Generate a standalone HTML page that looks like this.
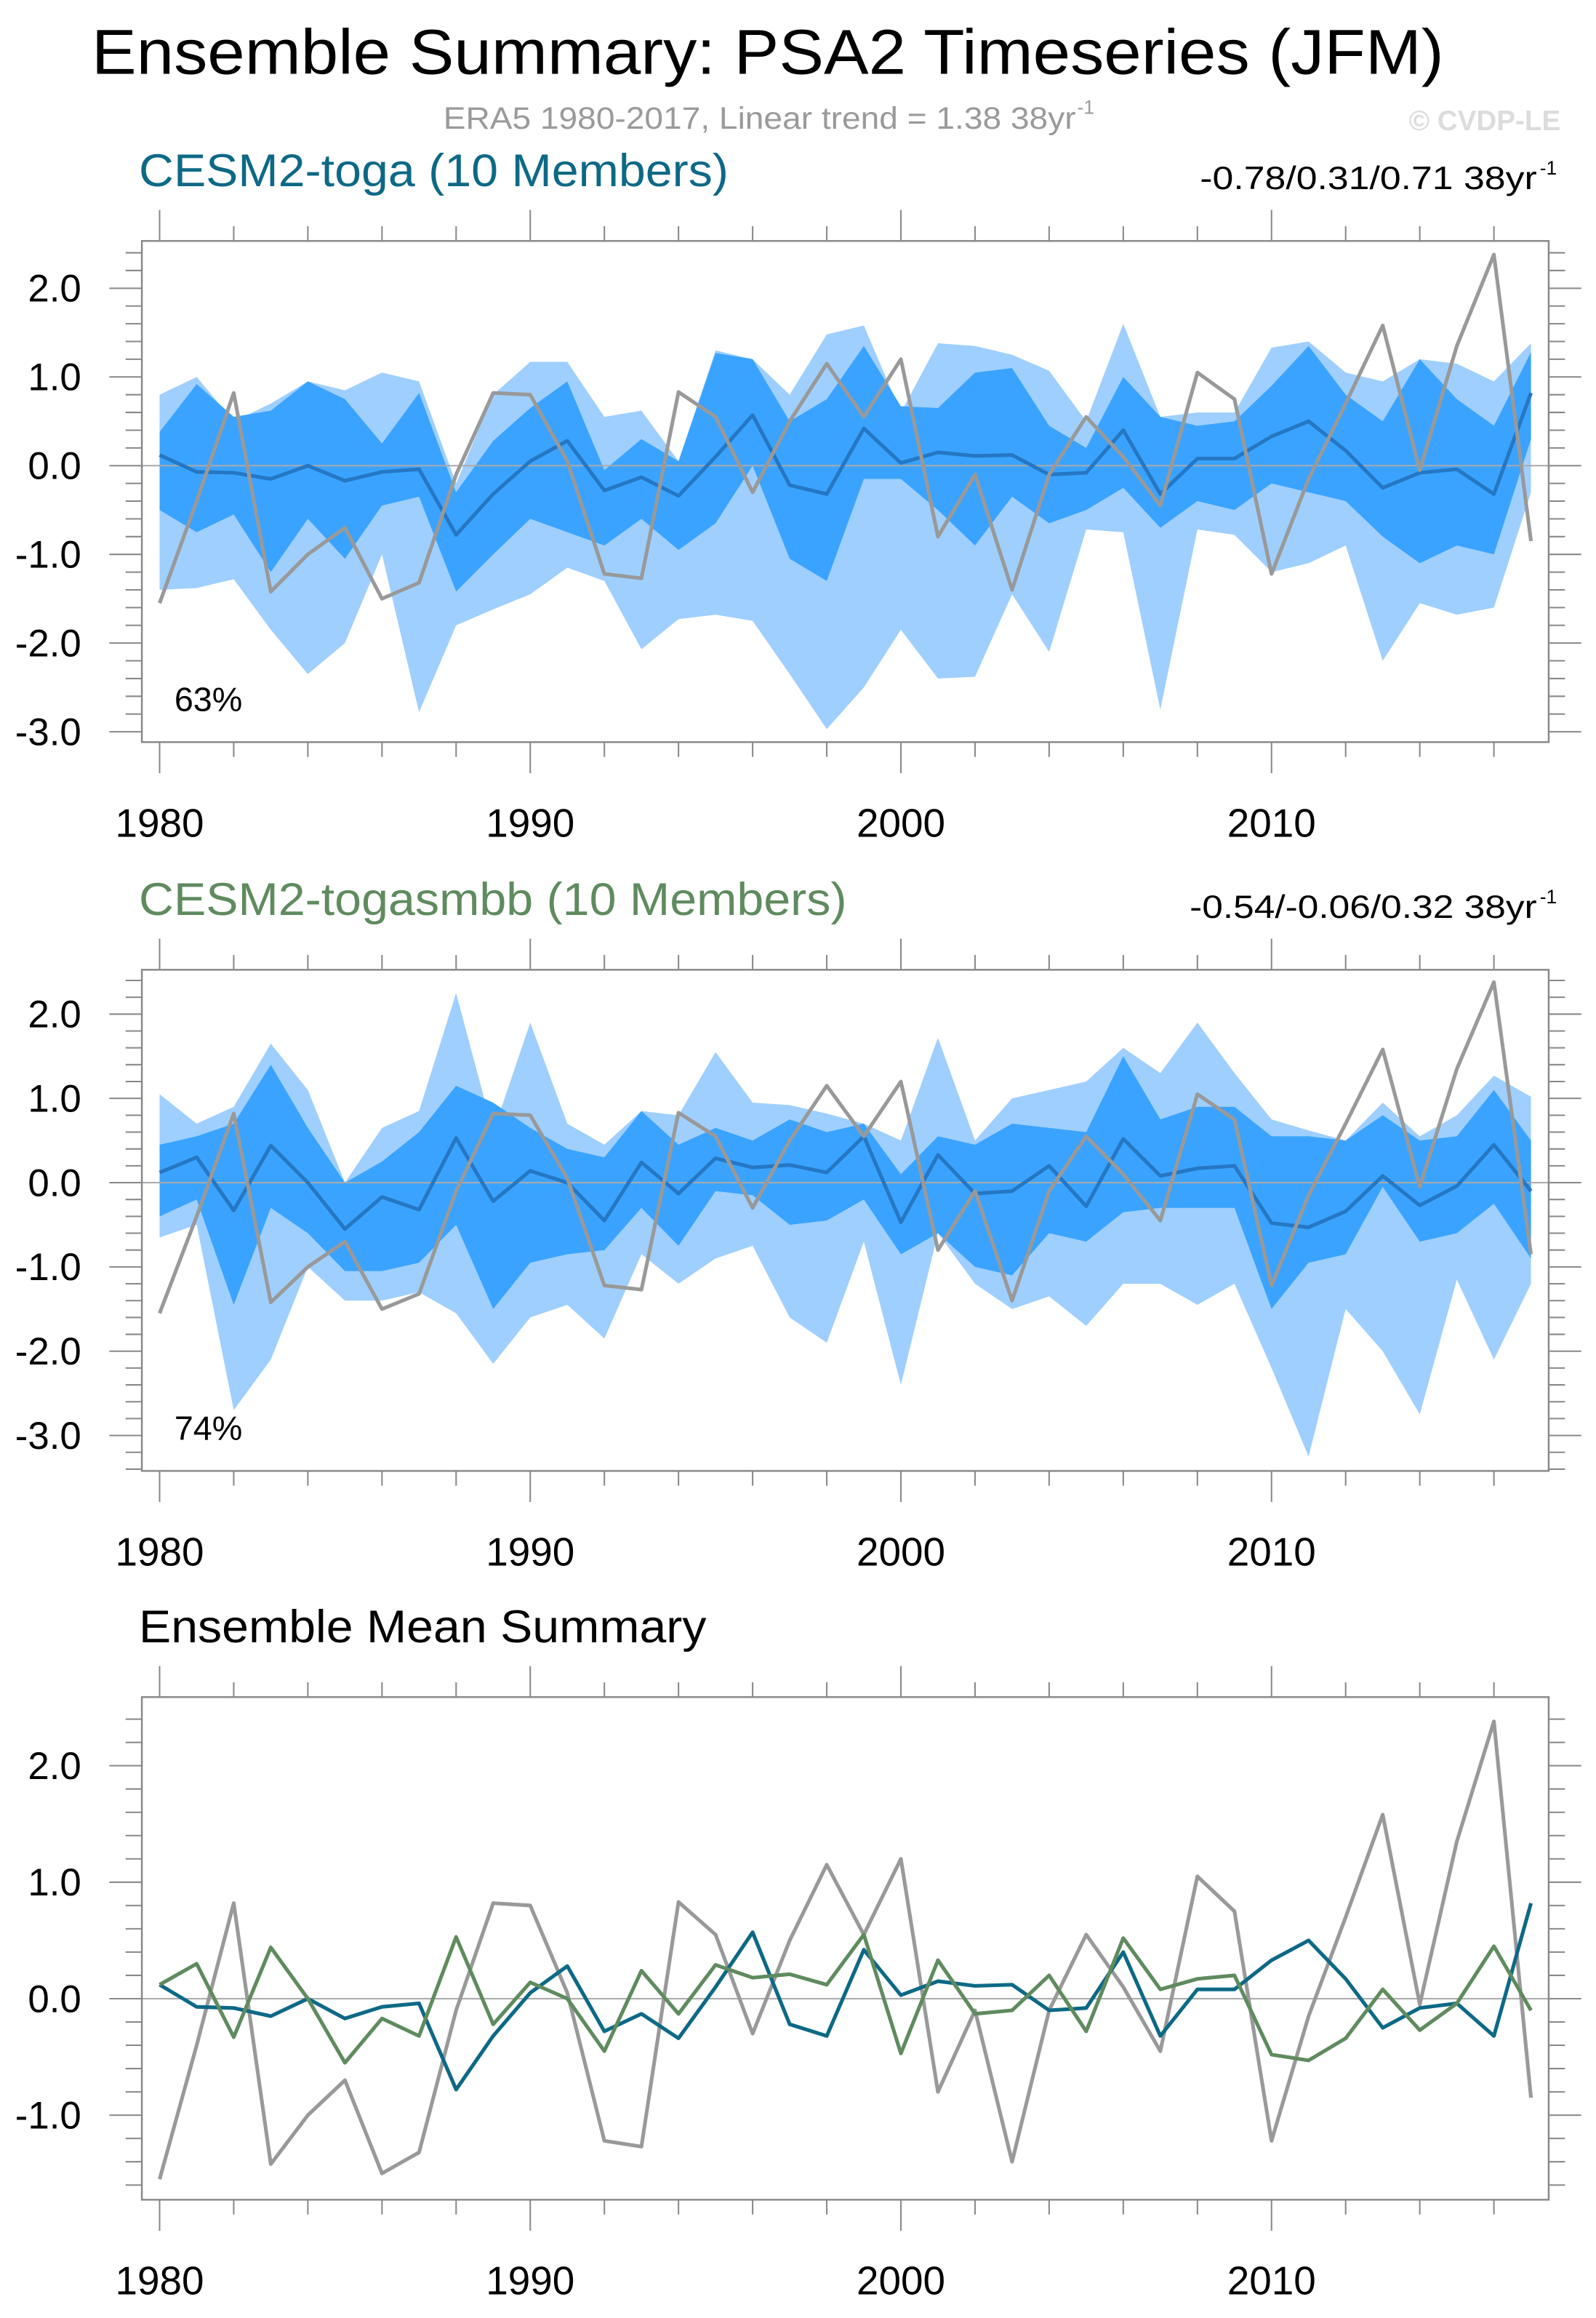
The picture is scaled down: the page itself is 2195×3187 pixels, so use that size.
<!DOCTYPE html>
<html><head><meta charset="utf-8">
<style>
html,body{margin:0;padding:0;background:#fff}
svg{display:block}
text{font-family:"Liberation Sans",sans-serif}
</style></head>
<body>
<svg id="fig" width="2195" height="3187" viewBox="0 0 1080 1568" preserveAspectRatio="none" xmlns="http://www.w3.org/2000/svg">
<rect width="1080" height="1568" fill="#fff"/>
<text x="62" y="50" font-size="43" textLength="915" lengthAdjust="spacingAndGlyphs" fill="#000">Ensemble Summary: PSA2 Timeseries (JFM)</text>
<text x="300" y="87" font-size="21" textLength="428" lengthAdjust="spacingAndGlyphs" fill="#9a9a9a">ERA5 1980-2017, Linear trend = 1.38 38yr</text>
<text x="729" y="77" font-size="13" fill="#9a9a9a">-1</text>
<text x="1056" y="88" font-size="19" text-anchor="end" fill="#dcdcdc" font-weight="bold">© CVDP-LE</text>
<text x="94" y="126" font-size="31" textLength="399" lengthAdjust="spacingAndGlyphs" fill="#0d6986">CESM2-toga (10 Members)</text>
<text x="812" y="128" font-size="22" textLength="228" lengthAdjust="spacingAndGlyphs" fill="#000">-0.78/0.31/0.71 38yr</text>
<text x="1042" y="118" font-size="13" fill="#000">-1</text>
<text x="94" y="619" font-size="31" textLength="479" lengthAdjust="spacingAndGlyphs" fill="#5f8b5f">CESM2-togasmbb (10 Members)</text>
<text x="805" y="621" font-size="22" textLength="235" lengthAdjust="spacingAndGlyphs" fill="#000">-0.54/-0.06/0.32 38yr</text>
<text x="1042" y="611" font-size="13" fill="#000">-1</text>
<text x="94" y="1111" font-size="31" textLength="384" lengthAdjust="spacingAndGlyphs" fill="#000">Ensemble Mean Summary</text>
<g id="p1"></g>
<g id="p2"></g>
<g id="p3"></g>
</svg>
<script>
const years = [];
for (let y = 1980; y <= 2017; y++) years.push(y);
const era5 = [-1.55,-0.4,0.82,-1.42,-1.0,-0.7,-1.5,-1.32,-0.1,0.82,0.80,0.05,-1.22,-1.27,0.83,0.55,-0.3,0.5,1.15,0.55,1.2,-0.8,-0.1,-1.4,-0.1,0.55,0.1,-0.45,1.05,0.75,-1.22,-0.15,0.7,1.58,-0.05,1.35,2.38,-0.85];
const togaMean = [0.12,-0.07,-0.08,-0.15,0.0,-0.17,-0.07,-0.04,-0.78,-0.32,0.05,0.28,-0.28,-0.13,-0.34,0.1,0.57,-0.22,-0.32,0.42,0.03,0.15,0.11,0.12,-0.1,-0.08,0.4,-0.32,0.08,0.08,0.33,0.5,0.17,-0.25,-0.08,-0.04,-0.32,0.82];
const smbbMean = [0.12,0.3,-0.33,0.44,0.0,-0.55,-0.17,-0.32,0.53,-0.22,0.14,0.0,-0.45,0.24,-0.13,0.29,0.18,0.21,0.12,0.55,-0.47,0.33,-0.13,-0.1,0.2,-0.28,0.52,0.08,0.17,0.2,-0.48,-0.53,-0.34,0.08,-0.27,-0.04,0.45,-0.1];
const togaMax = [0.8,1.0,0.5,0.7,0.95,0.85,1.05,0.95,-0.2,0.8,1.17,1.17,0.55,0.62,0.05,1.3,1.2,0.8,1.48,1.58,0.6,1.38,1.35,1.25,1.07,0.5,1.6,0.55,0.6,0.6,1.33,1.4,1.05,0.95,1.2,1.15,0.95,1.38];
const togaMin = [-1.4,-1.38,-1.28,-1.85,-2.35,-2.0,-1.0,-2.78,-1.8,-1.62,-1.45,-1.15,-1.3,-2.07,-1.73,-1.68,-1.75,-2.35,-2.97,-2.5,-1.85,-2.4,-2.38,-1.45,-2.1,-0.72,-0.75,-2.75,-0.72,-0.78,-1.2,-1.1,-0.9,-2.2,-1.55,-1.68,-1.6,-0.3];
const togaHi = [0.38,0.92,0.55,0.62,0.95,0.75,0.25,0.82,-0.3,0.28,0.65,0.95,-0.05,0.3,0.05,1.27,1.2,0.5,0.75,1.35,0.67,0.65,1.05,1.1,0.45,0.2,1.0,0.55,0.45,0.5,0.9,1.35,0.8,0.5,1.2,0.75,0.45,1.28];
const togaLo = [-0.5,-0.75,-0.55,-1.2,-0.6,-1.05,-0.45,-0.35,-1.42,-1.0,-0.6,-0.75,-0.9,-0.6,-0.95,-0.65,0.0,-1.05,-1.3,-0.15,-0.15,-0.5,-0.9,-0.35,-0.65,-0.5,-0.25,-0.7,-0.4,-0.5,-0.2,-0.3,-0.4,-0.8,-1.1,-0.9,-1.0,0.3];
const smbbMax = [1.05,0.7,0.9,1.65,1.1,0.0,0.65,0.85,2.25,0.6,1.9,0.7,0.45,0.85,0.8,1.55,0.95,0.92,0.82,0.7,0.5,1.72,0.5,1.0,1.1,1.2,1.6,1.3,1.9,1.3,0.75,0.62,0.5,0.95,0.55,0.8,1.27,1.02];
const smbbMin = [-0.65,-0.5,-2.7,-2.1,-1.0,-1.4,-1.4,-1.3,-1.55,-2.15,-1.6,-1.45,-1.85,-0.85,-1.2,-0.9,-0.75,-1.6,-1.9,-0.7,-2.4,-0.6,-1.2,-1.5,-1.35,-1.7,-1.2,-1.2,-1.45,-1.2,-2.2,-3.25,-1.5,-2.0,-2.75,-1.15,-2.1,-1.2];
const smbbHi = [0.45,0.55,0.7,1.4,0.65,0.0,0.25,0.6,1.15,0.95,0.65,0.4,0.3,0.85,0.45,0.65,0.5,0.75,0.6,0.7,0.1,0.55,0.45,0.7,0.65,0.6,1.5,0.75,0.9,0.9,0.55,0.55,0.5,0.8,0.5,0.55,1.1,0.5];
const smbbLo = [-0.4,-0.2,-1.45,-0.3,-0.6,-1.05,-1.05,-0.95,-0.5,-1.5,-0.95,-0.85,-0.8,-0.3,-0.75,-0.1,-0.15,-0.5,-0.45,-0.2,-0.85,-0.6,-1.0,-1.1,-0.6,-0.7,-0.35,-0.3,-0.3,-0.3,-1.5,-0.95,-0.85,-0.05,-0.7,-0.6,-0.25,-0.9];
const yTicks1 = [2.0,1.0,0.0,-1.0,-2.0,-3.0];
const yTicks3 = [2.0,1.0,0.0,-1.0];
const xTicks = [1980,1990,2000,2010];

const NS = "http://www.w3.org/2000/svg";
function mk(parent, tag, attrs){const e=document.createElementNS(NS,tag);for(const k in attrs)e.setAttribute(k,attrs[k]);parent.appendChild(e);return e;}

function panel(gid, top, bot, y0px, ppu, ymin, ymax, yTicks){
  const g=document.getElementById(gid);
  const L=96,R=1048;
  const xs=y=>108+(y-1980)*(1036-108)/37;
  const ys=v=>y0px-v*ppu;
  return {g,L,R,top,bot,xs,ys,finish(){
    const z=mk(g,'line',{x1:L,x2:R,y1:ys(0),y2:ys(0),stroke:'#aaaaaa','stroke-width':1});
    
    
    const box=mk(g,'rect',{x:L,y:top,width:R-L,height:bot-top,fill:'none',stroke:'#888','stroke-width':1.2});
    
    
    for(let yr=1980;yr<=2018;yr+=2){
      const major=(yr%10===0);const len=major?21:10;const x=xs(yr);
      if(x>R)continue;
      mk(g,'line',{x1:x,x2:x,y1:bot,y2:bot+len,stroke:'#888','stroke-width':1});
      mk(g,'line',{x1:x,x2:x,y1:top,y2:top-len,stroke:'#888','stroke-width':1});
    }
    xTicks.forEach(t=>{
      const tx=mk(g,'text',{x:xs(t),y:bot+64,'font-size':27,'text-anchor':'middle',fill:'#000'});
      tx.textContent=t;
      
      
    });
    for(let v=Math.ceil(ymin*5)/5; v<=ymax+1e-6; v+=0.2){
      const vv=Math.round(v*10)/10;const yy=ys(vv);
      if(yy<top-0.5||yy>bot+0.5)continue;
      const major=Math.abs(vv-Math.round(vv))<1e-6;const len=major?22:11;
      mk(g,'line',{x1:L-len,x2:L,y1:yy,y2:yy,stroke:'#888','stroke-width':1});
      mk(g,'line',{x1:R,x2:R+len,y1:yy,y2:yy,stroke:'#888','stroke-width':1});
    }
    yTicks.forEach(t=>{
      const tx=mk(g,'text',{x:55,y:ys(t)+9,'font-size':26,'text-anchor':'end',fill:'#000'});
      tx.textContent=t.toFixed(1);
      
      
    });
  }};
}
function poly(p, hi, lo, color, name){
  let pts=hi.map((v,i)=>p.xs(years[i])+','+p.ys(v));
  pts=pts.concat(lo.map((v,i)=>p.xs(years[i])+','+p.ys(v)).reverse());
  const e=mk(p.g,'polygon',{points:pts.join(' '),fill:color});
  
  
}
function line(p, vals, color, w, name){
  const e=mk(p.g,'polyline',{points:vals.map((v,i)=>p.xs(years[i])+','+p.ys(v)).join(' '),fill:'none',stroke:color,'stroke-width':w,'stroke-linejoin':'round'});
  
  
}
function label(p, txt, y){
  const t=mk(p.g,'text',{x:118,y:y,'font-size':23,fill:'#000'});t.textContent=txt;
  
  
}
const p1=panel('p1',163,502,315,60,-3.7,2.5,yTicks1);
poly(p1,togaMax,togaMin,'#9fcfff','toga-range-band');
poly(p1,togaHi,togaLo,'#3aa3ff','toga-spread-band');
p1.finish();
line(p1,togaMean,'#2577c4',2.5,'toga-mean-line');
line(p1,era5,'#999999',2.5,'era5-line');
label(p1,'63%',481);
const p2=panel('p2',656,995,800,57,-3.4,2.5,yTicks1);
poly(p2,smbbMax,smbbMin,'#9fcfff','togasmbb-range-band');
poly(p2,smbbHi,smbbLo,'#3aa3ff','togasmbb-spread-band');
p2.finish();
line(p2,smbbMean,'#2577c4',2.5,'togasmbb-mean-line');
line(p2,era5,'#999999',2.5,'era5-line');
label(p2,'74%',974);
const p3=panel('p3',1148,1488,1352,78.8,-1.7,2.6,yTicks3);
p3.finish();
line(p3,era5,'#999999',2.5,'era5-line');
line(p3,togaMean,'#0d6986',2.5,'toga-ensemble-mean-line');
line(p3,smbbMean,'#5f8b5f',2.5,'togasmbb-ensemble-mean-line');
</script>
</body></html>
